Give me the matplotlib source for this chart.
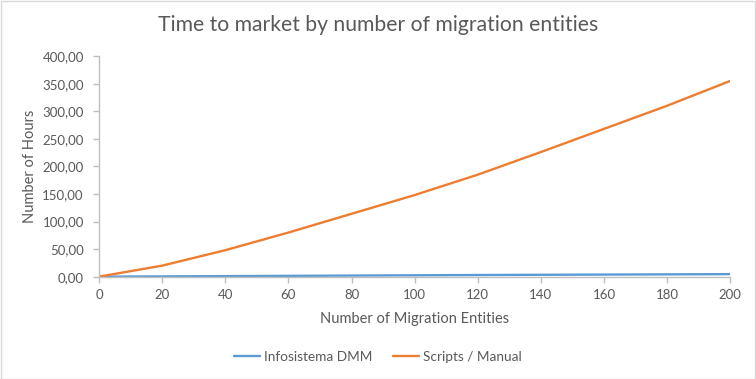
import matplotlib
matplotlib.use("Agg")
import matplotlib.pyplot as plt
from matplotlib.ticker import FuncFormatter

plt.rcParams['font.family'] = ['Lato', 'DejaVu Sans']

entities = [0, 20, 40, 60, 80, 100, 120, 140, 160, 180, 200]
dmm_hours = [0.0, 0.5, 1.0, 1.5, 2.0, 2.5, 3.0, 3.4, 3.8, 4.2, 4.6]
manual_hours = [0.0, 20.0, 48.0, 80.0, 114.0, 148.0, 185.0, 226.0, 268.0, 310.0, 355.0]

title = "Time to market by number of migration entities"
xlabel = "Number of Migration Entities"
ylabel = "Number of Hours"
series_names = ["Infosistema DMM", "Scripts / Manual"]
colors = ["#5B9BD5", "#ED7D31"]
text_color = "#595959"

fig = plt.figure(figsize=(7.56, 3.79), dpi=100)
ax = fig.add_axes([0.131, 0.27, 0.835, 0.582])

ax.plot(entities, dmm_hours, color=colors[0], lw=1.7, label=series_names[0], solid_capstyle='round')
ax.plot(entities, manual_hours, color=colors[1], lw=1.7, label=series_names[1], solid_capstyle='round')

ax.set_xlim(0, 200)
ax.set_ylim(0, 400)
ax.set_xticks(range(0, 201, 20))
ax.set_yticks(range(0, 401, 50))
ax.yaxis.set_major_formatter(FuncFormatter(lambda v, p: f"{v:.2f}".replace('.', ',')))

for s in ['top', 'right']:
    ax.spines[s].set_visible(False)
for s in ['left', 'bottom']:
    ax.spines[s].set_color('#BFBFBF')
    ax.spines[s].set_linewidth(1.0)
ax.tick_params(axis='both', colors='#BFBFBF', labelcolor=text_color, labelsize=9.5, length=4, width=1)
ax.tick_params(axis='x', pad=5)
ax.tick_params(axis='y', pad=7)

ax.set_xlabel(xlabel, color=text_color, fontsize=10.5, labelpad=8)
ax.set_ylabel(ylabel, color=text_color, fontsize=10.5, labelpad=4)

fig.text(0.5, 0.935, title, ha='center', va='center', fontsize=15.2, color=text_color)

fig.legend(loc='center', bbox_to_anchor=(0.5, 0.058), ncol=2, frameon=False,
           fontsize=9.8, labelcolor=text_color, handlelength=1.9, columnspacing=1.5, handletextpad=0.3)

border = plt.Rectangle((0.001, 0.001), 0.998, 0.997, transform=fig.transFigure,
                       fill=False, edgecolor='#D9D9D9', lw=1)
fig.patches.append(border)

fig.savefig("out.png", dpi=100, facecolor='white')
